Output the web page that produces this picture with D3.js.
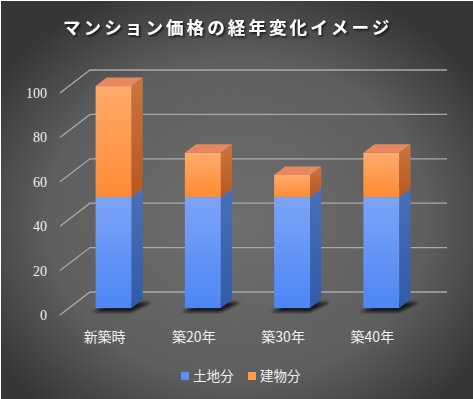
<!DOCTYPE html>
<html>
<head>
<meta charset="utf-8">
<script src="https://cdn.jsdelivr.net/npm/d3@7"></script>
<style>
  html, body { margin: 0; padding: 0; background: #fff; }
  svg { display: block; }
</style>
</head>
<body>
<div id="chart"></div>
<script>
// data
var categories = ["新築時", "築20年", "築30年", "築40年"];
var land = [50, 50, 50, 50];       // 土地分
var building = [50, 20, 10, 20];   // 建物分
var seriesNames = ["土地分", "建物分"];
var yTicks = [0, 20, 40, 60, 80, 100];

function drawChart() {
	var width = 473;
	var height = 399;

	// depth of the 3d box
	var depthX = 30, depthY = 23;
	var barT0 = 0.3, barT1 = 0.67;

	var x = d3.scaleBand().domain(categories).range([60, 417]);
	var y = d3.scaleLinear().domain([0, 100]).range([315, 93]);

	var svg = d3.select('#chart').append('svg')
		.attr('width', width)
		.attr('height', height);

	var defs = svg.append('defs');

	var bg = defs.append('radialGradient').attr('id', 'bg')
		.attr('cx', '50%').attr('cy', '55%').attr('r', '62%');
	bg.append('stop').attr('offset', '0%').attr('stop-color', '#6e6e6e');
	bg.append('stop').attr('offset', '65%').attr('stop-color', '#5e5e5e');
	bg.append('stop').attr('offset', '100%').attr('stop-color', '#363636');

	function vgrad(id, c1, c2) {
		var g = defs.append('linearGradient').attr('id', id)
			.attr('x1', 0).attr('y1', 0).attr('x2', 0).attr('y2', 1);
		g.append('stop').attr('offset', '0%').attr('stop-color', c1);
		g.append('stop').attr('offset', '100%').attr('stop-color', c2);
	}
	vgrad('blueFront', '#7ca4f6', '#4d86f4');
	vgrad('blueSide', '#4a6fb6', '#2f5ba8');
	vgrad('orangeFront', '#ffab6c', '#ff8b34');
	vgrad('orangeSide', '#cc7440', '#b8581f');

	var blur = defs.append('filter').attr('id', 'blur')
		.attr('x', '-30%').attr('y', '-30%').attr('width', '160%').attr('height', '160%');
	blur.append('feGaussianBlur').attr('stdDeviation', 1.6);

	var shadow = defs.append('filter').attr('id', 'tshadow')
		.attr('x', '-10%').attr('y', '-30%').attr('width', '120%').attr('height', '160%');
	shadow.append('feDropShadow').attr('dx', 1.5).attr('dy', 1.5)
		.attr('stdDeviation', 1.2).attr('flood-color', '#000').attr('flood-opacity', 0.8);

	// background
	svg.append('rect').attr('x', 1).attr('y', 1)
		.attr('width', width - 1).attr('height', height - 1)
		.attr('fill', 'url(#bg)');

	// title
	svg.append('text')
		.attr('x', 63).attr('y', 34)
		.attr('fill', '#ffffff')
		.attr('font-family', '"Noto Sans CJK JP", sans-serif')
		.attr('font-weight', 700)
		.attr('font-size', 17.5)
		.attr('letter-spacing', 3.1)
		.attr('filter', 'url(#tshadow)')
		.text('マンション価格の経年変化イメージ');

	// gridlines on side and back wall
	svg.append('g').selectAll('polyline').data(yTicks).enter().append('polyline')
		.attr('points', function(d) {
			return [[60, y(d)], [60 + depthX, y(d) - depthY], [417 + depthX, y(d) - depthY]].join(' ');
		})
		.attr('fill', 'none')
		.attr('stroke', '#a9a9a9')
		.attr('stroke-width', 1.3);

	// y labels
	svg.append('g').selectAll('text').data(yTicks).enter().append('text')
		.attr('x', 47).attr('y', function(d) { return y(d) + 5; })
		.attr('text-anchor', 'end')
		.attr('fill', '#f0f0f0')
		.attr('font-family', '"Liberation Serif", serif')
		.attr('font-size', 14)
		.text(function(d) { return d; });

	// stacked data
	var rows = categories.map(function(c, i) { return {cat: c, land: land[i], building: building[i]}; });
	var stack = d3.stack().keys(['land', 'building'])(rows);

	function pt(xf, v, t) { return [xf + depthX * t, y(v) - depthY * t]; }

	var barW = 36;
	function barLeft(cat) { return x(cat) + x.bandwidth() / 2 - barW / 2; }

	// shadows
	svg.append('g').selectAll('path').data(rows).enter().append('path')
		.attr('d', function(d) {
			var l = barLeft(d.cat) - 3, r = l + barW + 2;
			var p = [pt(l, 0, barT0), pt(r, 0, barT0), pt(r + 8, 0, barT1 + 0.05), pt(l + 8, 0, barT1 + 0.05)];
			return 'M' + p.map(function(q) { return [q[0], q[1] + 4]; }).join('L') + 'Z';
		})
		.attr('fill', '#0c0c0c')
		.attr('opacity', 0.9)
		.attr('filter', 'url(#blur)');

	// bars
	var fills = {
		land: {front: 'url(#blueFront)', side: 'url(#blueSide)', top: '#6f93dc'},
		building: {front: 'url(#orangeFront)', side: 'url(#orangeSide)', top: '#e8885e'}
	};
	var dxs = depthX * (barT1 - barT0), dys = depthY * (barT1 - barT0);
	var bars = svg.append('g');
	stack.forEach(function(s) {
		var f = fills[s.key];
		s.forEach(function(seg) {
			var l = barLeft(seg.data.cat), r = l + barW;
			var v0 = seg[0], v1 = seg[1];
			var g = bars.append('g');
			// front
			var a = pt(l, v1, barT0);
			var b = pt(r, v0, barT0);
			g.append('rect').attr('x', a[0]).attr('y', a[1])
				.attr('width', b[0] - a[0]).attr('height', b[1] - a[1])
				.attr('fill', f.front);
			// side
			var s0 = pt(r, v0, barT0), s1 = pt(r, v1, barT0);
			g.append('path')
				.attr('d', 'M' + [s0, s1, [s1[0] + dxs, s1[1] - dys], [s0[0] + dxs, s0[1] - dys]].join('L') + 'Z')
				.attr('fill', f.side);
			// top
			var t0 = pt(l, v1, barT0);
			g.append('path')
				.attr('d', 'M' + [t0, s1, [s1[0] + dxs, s1[1] - dys], [t0[0] + dxs, t0[1] - dys]].join('L') + 'Z')
				.attr('fill', f.top);
		});
	});

	// category labels
	svg.append('g').selectAll('text').data(categories).enter().append('text')
		.attr('x', function(d) { return x(d) + x.bandwidth() / 2; })
		.attr('y', 342)
		.attr('text-anchor', 'middle')
		.attr('fill', '#f0f0f0')
		.attr('font-family', '"Noto Sans CJK JP", sans-serif')
		.attr('font-size', 14)
		.text(function(d) { return d; });

	// legend
	var legendColors = ['#5b8ef5', '#ff9a4c'];
	var legX = [181, 248];
	var leg = svg.append('g').selectAll('g').data(seriesNames).enter().append('g');
	leg.append('rect')
		.attr('x', function(d, i) { return legX[i]; })
		.attr('y', 372).attr('width', 8).attr('height', 8)
		.attr('fill', function(d, i) { return legendColors[i]; });
	leg.append('text')
		.attr('x', function(d, i) { return legX[i] + 12; })
		.attr('y', 381)
		.attr('fill', '#f0f0f0')
		.attr('font-family', '"Noto Sans CJK JP", sans-serif')
		.attr('font-size', 13.5)
		.text(function(d) { return d; });
}

drawChart();
</script>
</body>
</html>
